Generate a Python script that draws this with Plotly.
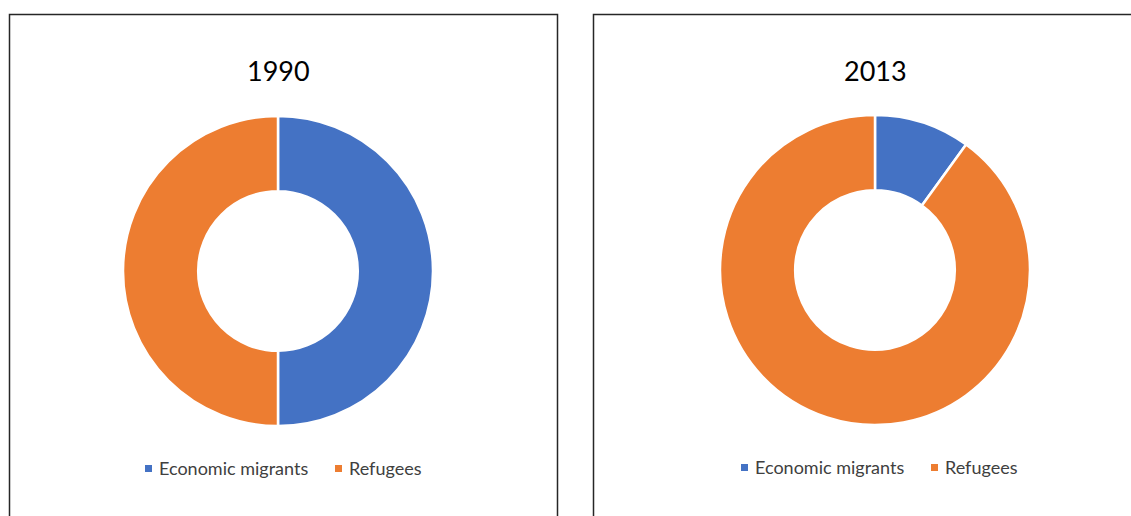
import plotly.graph_objects as go

labels = ["Economic migrants", "Refugees"]
values_1990 = [50, 50]
values_2013 = [10, 90]
years = ["1990", "2013"]
colors = ["#4472C4", "#ED7D31"]

W, H = 1131, 516


def px_x(v):
    return v / W


def px_y(v):
    return 1 - v / H


fig = go.Figure()

# donut centres in page pixels
centers = [(278, 271), (875, 270)]
radius = 155
# legend: left edge of each colour square, per panel
legend_x = [[145, 335], [741, 931]]
legend_y = [468, 467]

for i, (vals, yr) in enumerate(zip([values_1990, values_2013], years)):
    cx, cy = centers[i]
    fig.add_trace(go.Pie(
        labels=labels,
        values=vals,
        hole=0.515,
        sort=False,
        direction="clockwise",
        rotation=0,
        textinfo="none",
        hoverinfo="label+percent",
        marker=dict(colors=colors, line=dict(color="white", width=2.5)),
        domain=dict(x=[px_x(cx - radius), px_x(cx + radius)],
                    y=[px_y(cy + radius), px_y(cy - radius)]),
        showlegend=False,
    ))
    fig.add_annotation(
        text=yr, x=px_x(cx), y=px_y(70), xref="paper", yref="paper",
        showarrow=False, xanchor="center", yanchor="middle",
        font=dict(family="Lato", size=27, color="#000000"),
    )
    # legend
    for lab, col, lx in zip(labels, colors, legend_x[i]):
        ly = legend_y[i]
        fig.add_shape(type="rect", xref="paper", yref="paper",
                      x0=px_x(lx), x1=px_x(lx + 7), y0=px_y(ly + 4), y1=px_y(ly - 3),
                      line=dict(width=0), fillcolor=col)
        fig.add_annotation(
            text=lab, x=px_x(lx + 12), y=px_y(ly), xref="paper", yref="paper",
            showarrow=False, xanchor="left", yanchor="middle",
            font=dict(family="Lato", size=18, color="#404040"),
        )

# panel borders
for x0, x1 in [(9.5, 557.5), (593.5, 1150)]:
    fig.add_shape(type="rect", xref="paper", yref="paper",
                  x0=px_x(x0), x1=px_x(x1), y0=-0.2, y1=px_y(14.5),
                  line=dict(color="#262626", width=1.5), fillcolor="rgba(0,0,0,0)")

fig.update_layout(
    width=W, height=H,
    margin=dict(l=0, r=0, t=0, b=0),
    paper_bgcolor="white",
    plot_bgcolor="white",
    showlegend=False,
)

fig.write_html("out.html",
               config={"displayModeBar": False},
               post_script="document.body.style.margin='0';document.body.style.overflow='hidden';")
